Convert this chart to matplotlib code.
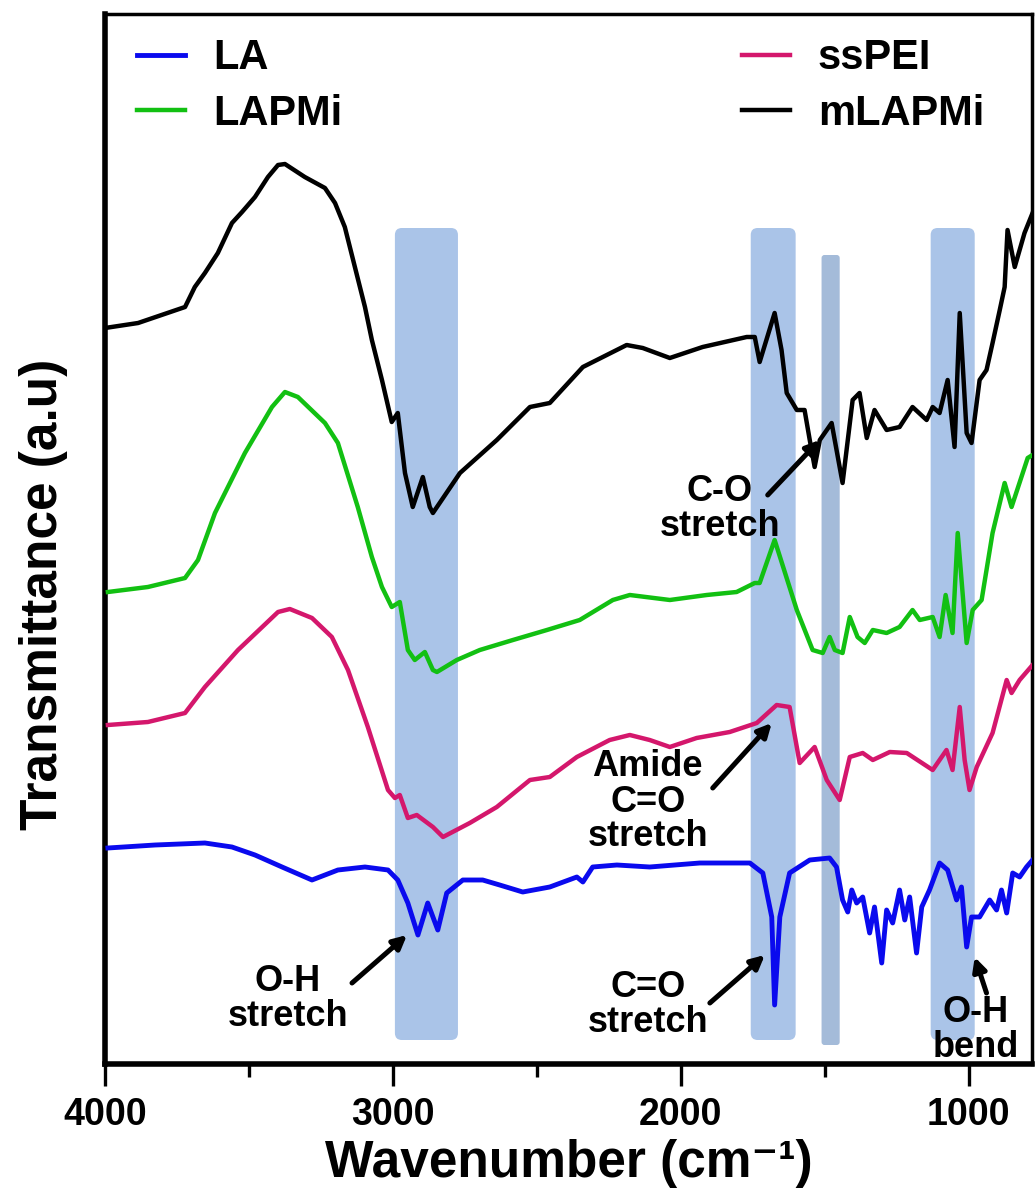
import matplotlib
matplotlib.use("Agg")
import matplotlib.pyplot as plt
from matplotlib.patches import FancyBboxPatch

plt.rcParams['font.family'] = ['Liberation Sans', 'DejaVu Sans']
plt.rcParams['font.weight'] = 'bold'

# FTIR spectra (wavenumber in cm-1, transmittance in a.u., curves stacked)
mlapmi_wn = [4000, 3885, 3722, 3688, 3653, 3608, 3559, 3524, 3479, 3434, 3399, 3375, 3306, 3236,
             3201, 3167, 3132, 3097, 3073, 3038, 3004, 2983, 2958, 2931, 2896, 2872, 2861, 2767,
             2639, 2524, 2455, 2340, 2188, 2132, 2038, 1924, 1771, 1743, 1726, 1674, 1650, 1632,
             1597, 1570, 1552, 1535, 1517, 1476, 1438, 1403, 1379, 1354, 1327, 1285, 1240, 1195,
             1146, 1125, 1101, 1073, 1049, 1031, 1007, 990, 962, 938, 917, 892, 875, 865, 840,
             806, 778]
mlapmi_t = [736, 741, 757, 777, 791, 811, 841, 852, 867, 887, 899, 900, 887, 876,
            861, 837, 797, 757, 724, 684, 642, 651, 591, 557, 587, 557, 551, 591,
            624, 657, 661, 697, 719, 716, 706, 717, 727, 727, 702, 751, 714, 671,
            654, 654, 624, 597, 624, 641, 581, 664, 671, 626, 654, 634, 637, 657,
            644, 657, 651, 684, 617, 751, 631, 621, 684, 694, 721, 754, 777, 834, 797,
            831, 851]

lapmi_wn = [3990, 3851, 3722, 3677, 3618, 3514, 3420, 3375, 3330, 3236, 3191, 3122, 3073, 3038,
            3004, 2976, 2948, 2924, 2889, 2861, 2847, 2778, 2698, 2583, 2465, 2351, 2236, 2177,
            2038, 1910, 1806, 1743, 1726, 1674, 1597, 1542, 1507, 1483, 1465, 1438, 1413, 1386,
            1361, 1333, 1285, 1240, 1195, 1170, 1125, 1101, 1080, 1056, 1038, 1007, 986, 955,
            917, 875, 851, 795, 778]
lapmi_t = [472, 477, 486, 504, 551, 611, 657, 672, 667, 641, 621, 557, 507, 477,
           457, 462, 414, 404, 412, 394, 392, 404, 414, 424, 434, 444, 464, 469,
           464, 469, 472, 481, 481, 524, 454, 414, 411, 427, 414, 411, 447, 427,
           421, 434, 431, 437, 454, 444, 447, 427, 469, 431, 531, 421, 454, 464,
           531, 581, 557, 606, 609]

sspei_wn = [3990, 3851, 3722, 3653, 3538, 3399, 3358, 3281, 3212, 3156, 3087, 3017, 2993, 2976,
            2948, 2917, 2861, 2826, 2733, 2639, 2524, 2455, 2361, 2247, 2177, 2108, 2038, 1945,
            1830, 1736, 1667, 1622, 1587, 1535, 1493, 1448, 1413, 1368, 1333, 1274, 1215, 1125,
            1077, 1056, 1031, 1014, 997, 972, 917, 868, 851, 823, 778]
sspei_t = [339, 342, 351, 377, 414, 452, 455, 446, 427, 394, 337, 274, 266, 269,
           246, 249, 237, 227, 241, 257, 284, 287, 307, 324, 329, 324, 317, 326,
           332, 341, 359, 357, 301, 317, 284, 264, 307, 311, 304, 312, 311, 294,
           314, 294, 357, 304, 274, 297, 331, 384, 371, 384, 399]

la_wn = [3990, 3826, 3653, 3559, 3479, 3385, 3281, 3191, 3097, 3017, 2983, 2948, 2913, 2879,
         2844, 2813, 2757, 2688, 2629, 2549, 2455, 2361, 2340, 2306, 2222, 2108, 1934, 1760,
         1715, 1684, 1674, 1656, 1622, 1552, 1483, 1459, 1438, 1420, 1406, 1389, 1368, 1344,
         1327, 1302, 1285, 1264, 1240, 1222, 1205, 1181, 1163, 1136, 1101, 1073, 1042, 1025,
         1007, 990, 962, 927, 903, 886, 868, 847, 823, 799, 778]
la_t = [216, 219, 221, 217, 209, 197, 184, 194, 197, 194, 184, 161, 129, 161,
        134, 171, 184, 184, 179, 172, 177, 187, 182, 197, 199, 197, 201, 201,
        191, 147, 59, 147, 191, 204, 206, 197, 164, 152, 174, 161, 167, 131,
        157, 101, 154, 141, 174, 144, 167, 111, 157, 174, 201, 194, 164, 177,
        117, 147, 147, 164, 154, 174, 151, 191, 187, 197, 204]

# highlighted regions (cm-1)
band_lo = [2774, 1601, 979]
band_hi = [2993, 1757, 1132]
narrow_lo, narrow_hi = 1448, 1511

fig = plt.figure(figsize=(10.36, 12.01), dpi=100)
ax = fig.add_axes([105 / 1036, 1 - 1064 / 1201, 927 / 1036, 1050 / 1201])
ax.set_xlim(4000, 780)
ax.set_ylim(0, 1050)

for lo, hi in zip(band_lo, band_hi):
    ax.add_patch(FancyBboxPatch((lo, 24), hi - lo, 812,
                                boxstyle="round,pad=0,rounding_size=24",
                                mutation_aspect=0.29, fc='#aac4e8', ec='none', zorder=1))
ax.add_patch(FancyBboxPatch((narrow_lo, 19), narrow_hi - narrow_lo, 790,
                            boxstyle="round,pad=0,rounding_size=10",
                            mutation_aspect=0.3, fc='#a4bbd9', ec='none', zorder=1))

ax.plot(la_wn, la_t, color='#0a0aee', lw=3.5, label='LA', zorder=3)
ax.plot(lapmi_wn, lapmi_t, color='#12c012', lw=3.2, label='LAPMi', zorder=3)
ax.plot(sspei_wn, sspei_t, color='#d4176c', lw=3.2, label='ssPEI', zorder=3)
ax.plot(mlapmi_wn, mlapmi_t, color='black', lw=3.2, label='mLAPMi', zorder=3)

ax.legend(ncol=2, loc='upper left', bbox_to_anchor=(0.0345, 0.977), frameon=False,
          fontsize=30, handlelength=1.15, handletextpad=0.67, columnspacing=9.6,
          labelspacing=0.37, borderpad=0, borderaxespad=0)

# annotations
arrow = dict(arrowstyle='-|>,head_length=0.8,head_width=0.4', lw=3.6, color='black',
             shrinkA=0, shrinkB=0)
notes = [
    ('O-H\nstretch', (3365, 65), (3142, 81), (2951, 129)),
    ('C=O\nstretch', (2115, 59), (1899, 61), (1708, 109)),
    ('Amide\nC=O\nstretch', (2115, 262), (1889, 276), (1684, 341)),
    ('C-O\nstretch', (1865, 555), (1698, 569), (1517, 624)),
    ('O-H\nbend', (976, 34), (938, 71), (979, 107)),
]
for label, pos, tail, head in notes:
    ax.text(pos[0], pos[1], label, ha='center', va='center', fontsize=26,
            fontweight='bold', linespacing=1.0, zorder=4)
    ax.annotate('', xy=head, xytext=tail, arrowprops=arrow, zorder=4)

ax.set_xticks([4000, 3000, 2000, 1000])
ax.set_xticks([3500, 2500, 1500], minor=True)
ax.set_yticks([])
ax.tick_params(axis='x', which='major', direction='out', length=16, width=2.4,
               labelsize=27, pad=8)
ax.tick_params(axis='x', which='minor', direction='out', length=9, width=2.4)
for s in ['left', 'bottom']:
    ax.spines[s].set_linewidth(4)
for s in ['top', 'right']:
    ax.spines[s].set_linewidth(2.5)

ax.set_xlabel('Wavenumber (cm\u207b\u00b9)', fontsize=37, fontweight='bold', labelpad=4)
ax.set_ylabel('Transmittance (a.u)', fontsize=37, fontweight='bold')
ax.yaxis.set_label_coords(-0.04, 0.447)

fig.savefig('out.png', dpi=100)
